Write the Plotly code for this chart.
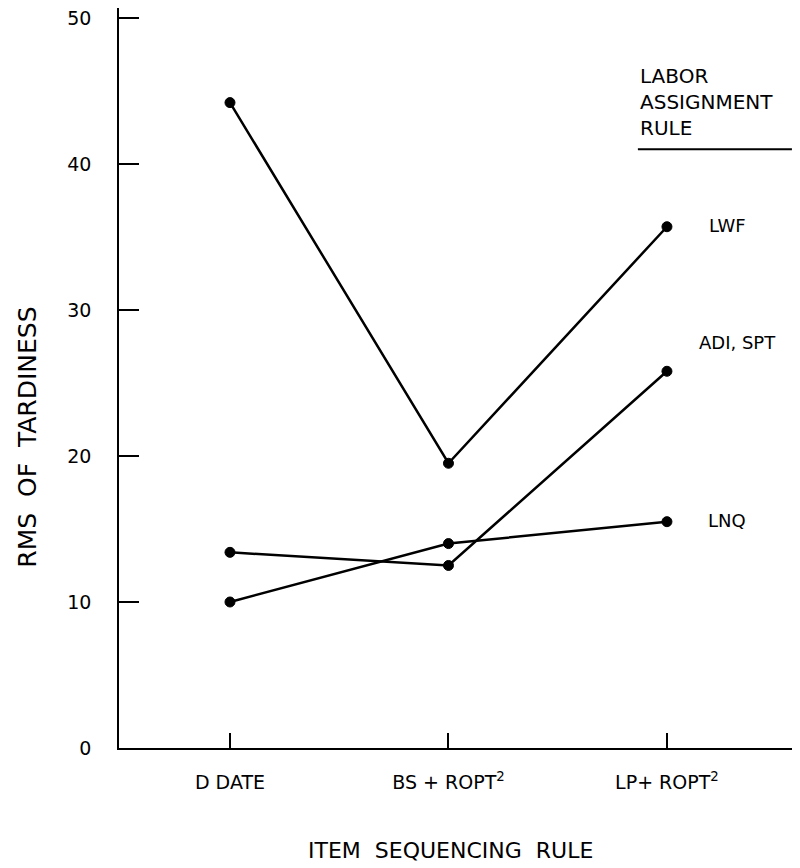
import plotly.graph_objects as go

categories = ["D DATE", "BS + ROPT<sup>2</sup>", "LP+ ROPT<sup>2</sup>"]
x_pos = [0, 1, 2]
lwf = [44.2, 19.5, 35.7]
adi_spt = [13.4, 12.5, 25.8]
lnq = [10.0, 14.0, 15.5]
series = [("LWF", lwf, 2.183, 35.8), ("ADI, SPT", adi_spt, 2.137, 27.8), ("LNQ", lnq, 2.18, 15.6)]
y_ticks = [0, 10, 20, 30, 40, 50]

FONT = "DejaVu Sans"
fig = go.Figure()
for name, vals, lx, ly in series:
    fig.add_trace(go.Scatter(
        x=x_pos, y=vals, mode="lines+markers", name=name,
        line=dict(color="black", width=2.5),
        marker=dict(symbol="circle", size=10, color="black",
                    line=dict(color="black", width=1)),
        showlegend=False, hoverinfo="x+y"))
    fig.add_annotation(x=lx, y=ly, xref="x", yref="y", text=name,
                       showarrow=False, xanchor="left", yanchor="middle",
                       font=dict(family=FONT, size=18, color="black"))

fig.add_annotation(x=1.867, y=47.0, xref="x", yref="y",
                   text="LABOR<br>ASSIGNMENT<br>RULE", showarrow=False,
                   xanchor="left", yanchor="top", align="left",
                   font=dict(family=FONT, size=20, color="black"))
fig.add_shape(type="line", xref="x", yref="y", x0=1.867, x1=2.572, y0=41.0, y1=41.0,
              line=dict(color="black", width=2))

fig.add_annotation(x=1.01, y=-0.138, xref="x", yref="paper",
                   text="ITEM&nbsp;&nbsp;SEQUENCING&nbsp;&nbsp;RULE", showarrow=False,
                   xanchor="center", yanchor="middle",
                   font=dict(family=FONT, size=22, color="black"))
fig.add_annotation(x=-0.134, y=21.3, xref="paper", yref="y",
                   text="RMS&nbsp;&nbsp;OF&nbsp;&nbsp;TARDINESS", showarrow=False, textangle=-90,
                   xanchor="center", yanchor="middle",
                   font=dict(family=FONT, size=25, color="black"))

fig.update_xaxes(range=[-0.508, 2.609], tickvals=x_pos, ticktext=categories,
                 ticks="inside", ticklen=15, tickwidth=1.5, tickcolor="black",
                 showline=True, linecolor="black", linewidth=1.5,
                 showgrid=False, zeroline=False, ticklabelstandoff=16,
                 tickfont=dict(family=FONT, size=19, color="black"))
fig.update_yaxes(range=[0, 50.68], tickvals=y_ticks,
                 ticks="inside", ticklen=20, tickwidth=1.5, tickcolor="black",
                 showline=True, linecolor="black", linewidth=1.5,
                 showgrid=False, zeroline=False, ticklabelstandoff=22,
                 ticklabeloverflow="allow",
                 tickfont=dict(family=FONT, size=19, color="black"))
fig.update_layout(width=792, height=860, plot_bgcolor="white", paper_bgcolor="white",
                  margin=dict(l=111, r=0, t=0, b=120))
fig.write_html("out.html")
